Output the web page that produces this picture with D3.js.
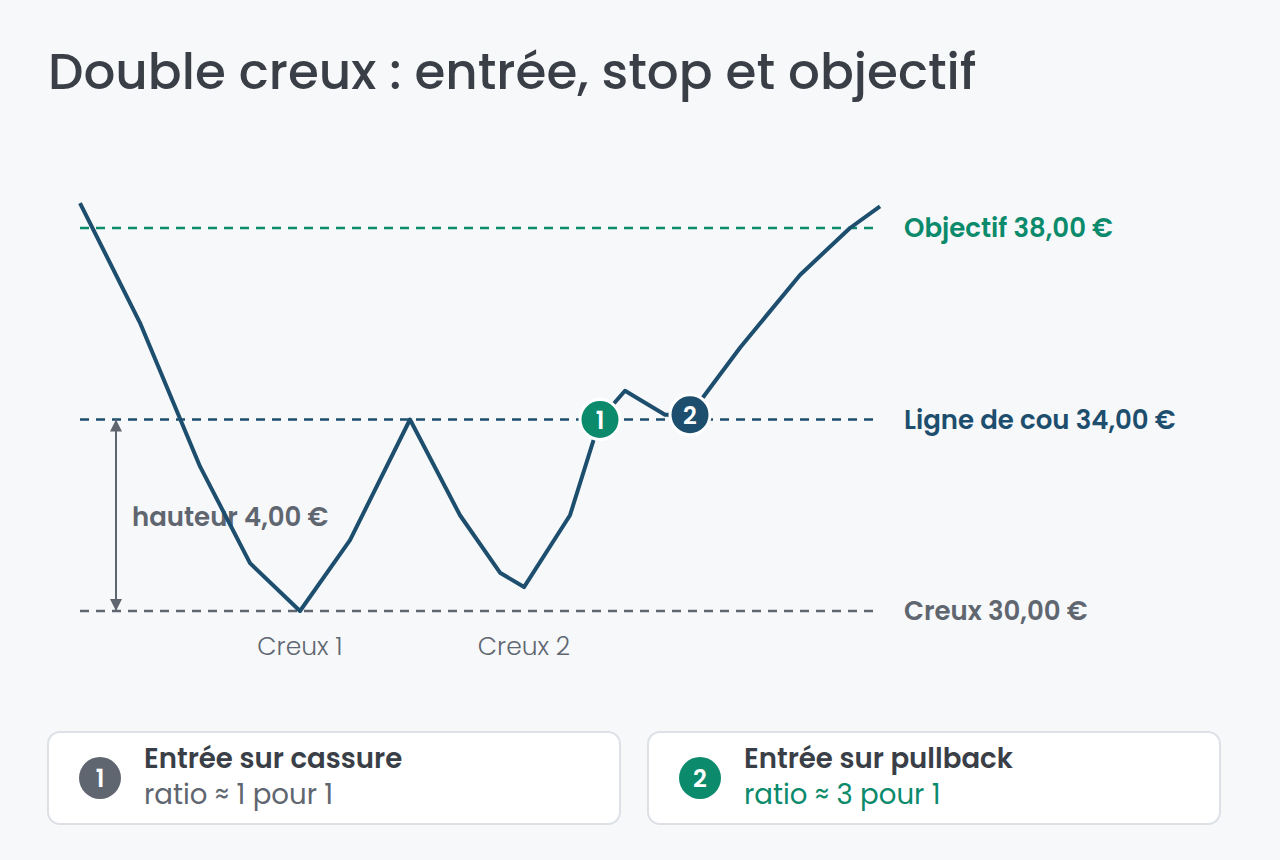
<!DOCTYPE html>
<html><head><meta charset="utf-8">
<script src="https://cdn.jsdelivr.net/npm/d3@7"></script>
<style>
body{margin:0;background:#f6f8fa;font-family:Poppins,"Open Sans",Inter,sans-serif;}
</style></head>
<body><svg id="chart" width="1280" height="860"></svg>
<script>
// Price path (x = session, y = price in €)
const sessions = [0, 6, 12, 17, 22, 27, 33, 38, 42, 44.4, 49, 52, 54.5, 58.5, 61, 66, 72, 77, 80];
const prices = [38.52, 36.02, 33.02, 31.0, 30.0, 31.48, 34.0, 32.0, 30.8, 30.5, 32.0, 34.0, 34.6, 34.1, 34.1, 35.5, 37.02, 38.0, 38.45];
const levels = [
  {label: 'Objectif 38,00 €', value: 38, color: '#0b8a6c'},
  {label: 'Ligne de cou 34,00 €', value: 34, color: '#1d4e6e'},
  {label: 'Creux 30,00 €', value: 30, color: '#5f6670'}
];
const troughs = [{label: 'Creux 1', x: 22}, {label: 'Creux 2', x: 44.4}];
const entries = [{n: '1', x: 52, y: 34, color: '#0b8a6c'}, {n: '2', x: 61, y: 34.1, color: '#1d4e6e'}];
const cards = [
  {n: '1', title: 'Entrée sur cassure', sub: 'ratio ≈ 1 pour 1', badge: '#5f6670', subColor: '#5f6670'},
  {n: '2', title: 'Entrée sur pullback', sub: 'ratio ≈ 3 pour 1', badge: '#0b8a6c', subColor: '#0b8a6c'}
];

const svg = d3.select('#chart');
const x = d3.scaleLinear().domain([0, 80]).range([80, 880]);
const y = d3.scaleLinear().domain([30, 38]).range([611, 228]);

svg.append('text').attr('x', 48).attr('y', 89)
  .style('font-size', '50px').style('font-weight', 500).style('fill', '#3a3f47')
  .text('Double creux : entrée, stop et objectif');

// Reference levels
levels.forEach(l => {
  svg.append('line').attr('x1', x(0)).attr('x2', x(80))
    .attr('y1', y(l.value)).attr('y2', y(l.value))
    .attr('stroke', l.color).attr('stroke-width', 2.5).attr('stroke-dasharray', '9,7');
  svg.append('text').attr('x', 904).attr('y', y(l.value) + 9)
    .style('font-size', '26px').style('font-weight', 600).style('fill', l.color)
    .text(l.label);
});

// Height arrow
svg.append('defs').append('marker').attr('id', 'ah').attr('viewBox', '0 0 10 10')
  .attr('refX', 10).attr('refY', 5).attr('markerWidth', 6).attr('markerHeight', 6).attr('orient', 'auto-start-reverse')
  .append('path').attr('d', 'M0,0L10,5L0,10Z').attr('fill', '#5f6670');
svg.append('line').attr('x1', 116).attr('x2', 116).attr('y1', y(34)).attr('y2', y(30))
  .attr('stroke', '#5f6670').attr('stroke-width', 2)
  .attr('marker-start', 'url(#ah)').attr('marker-end', 'url(#ah)');
svg.append('text').attr('x', 132).attr('y', 526)
  .style('font-size', '26px').style('font-weight', 600).style('fill', '#5f6670')
  .text('hauteur 4,00 €');

// Price line
svg.append('path').datum(sessions.map((s, i) => [s, prices[i]]))
  .attr('d', d3.line().x(d => x(d[0])).y(d => y(d[1])))
  .attr('fill', 'none').attr('stroke', '#1d4e6e').attr('stroke-width', 4).attr('stroke-linejoin', 'round');

troughs.forEach(t => {
  svg.append('text').attr('x', x(t.x)).attr('y', 655).attr('text-anchor', 'middle')
    .style('font-size', '25px').style('font-weight', 300).style('fill', '#5f6670').text(t.label);
});

entries.forEach(e => {
  svg.append('circle').attr('cx', x(e.x)).attr('cy', y(e.y)).attr('r', 20)
    .attr('fill', e.color).attr('stroke', '#fff').attr('stroke-width', 3);
  svg.append('text').attr('x', x(e.x)).attr('y', y(e.y) + 9).attr('text-anchor', 'middle')
    .style('font-size', '24px').style('font-weight', 600).style('fill', '#fff').text(e.n);
});

// Cards
cards.forEach((c, i) => {
  const g = svg.append('g').attr('transform', `translate(${48 + i * 600},732)`);
  g.append('rect').attr('width', 572).attr('height', 92).attr('rx', 12)
    .attr('fill', '#fff').attr('stroke', '#dde1e6').attr('stroke-width', 2);
  g.append('circle').attr('cx', 52).attr('cy', 46).attr('r', 21).attr('fill', c.badge);
  g.append('text').attr('x', 52).attr('y', 55).attr('text-anchor', 'middle')
    .style('font-size', '24px').style('font-weight', 600).style('fill', '#fff').text(c.n);
  g.append('text').attr('x', 96).attr('y', 36)
    .style('font-size', '27.6px').style('font-weight', 600).style('fill', '#3a3f47').text(c.title);
  g.append('text').attr('x', 96).attr('y', 72)
    .style('font-size', '27.6px').style('fill', c.subColor).text(c.sub);
});
</script></body></html>
